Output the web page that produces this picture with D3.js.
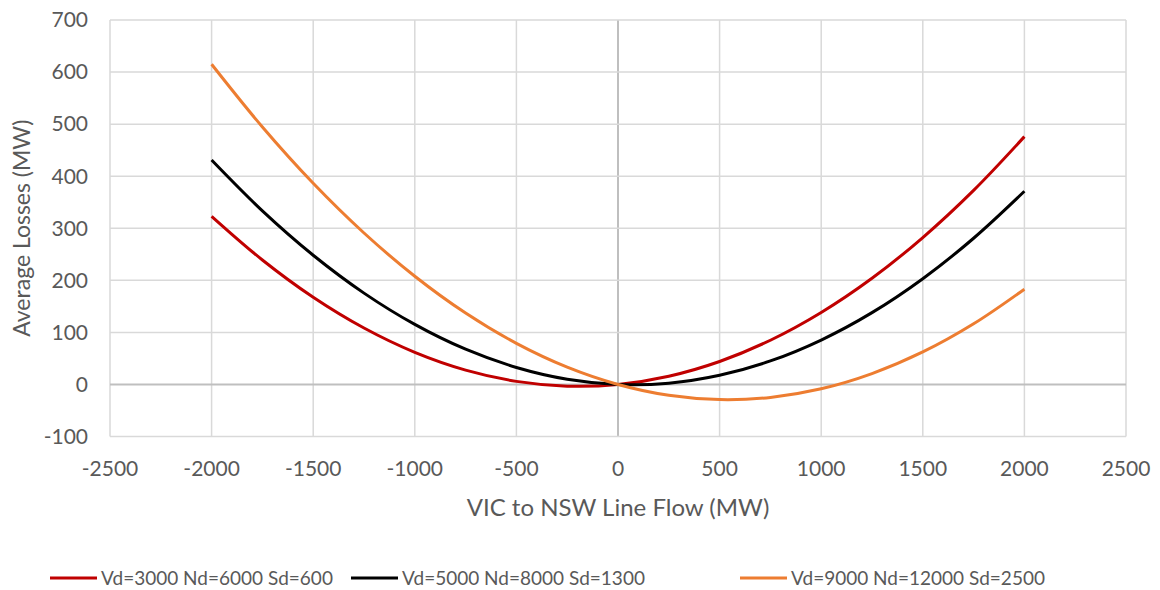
<!DOCTYPE html>
<html><head><meta charset="utf-8">
<script src="https://cdn.jsdelivr.net/npm/d3@7"></script>
<style>body{margin:0;background:#fff}text{font-family:"Lato","Liberation Sans",sans-serif;fill:#595959}</style>
</head><body><svg id="c" width="1160" height="590"></svg>
<script>
const flows = [-2000,-1750,-1500,-1250,-1000,-750,-500,-250,0,250,500,750,1000,1250,1500,1750,2000];
const seriesNames = ["Vd=3000 Nd=6000 Sd=600","Vd=5000 Nd=8000 Sd=1300","Vd=9000 Nd=12000 Sd=2500"];
const lossesA = [323,239,167.4,108.3,61.6,27.5,5.9,-3.3,0,15.8,44.1,84.9,138.2,203.9,282.2,372.8,476];
const lossesB = [431,333.3,248.1,175.4,115.3,67.6,32.6,10,0,2.5,17.6,45.1,85.3,137.9,203.1,280.8,371];
const lossesC = [615,494.5,386.4,290.9,207.8,137.1,78.9,33.2,0,-20.8,-29.1,-24.9,-8.3,20.9,62.4,116.5,183];
const xTicks = [-2500,-2000,-1500,-1000,-500,0,500,1000,1500,2000,2500];
const yTicks = [-100,0,100,200,300,400,500,600,700];
const colors = ["#C00000","#000000","#ED7D31"];

const svg = d3.select("#c");
const L=110,R=1126,T=20,B=436.5;
const x = d3.scaleLinear().domain([-2500,2500]).range([L,R]);
const y = d3.scaleLinear().domain([-100,700]).range([B,T]);

const g = svg.append("g");
g.selectAll(".vg").data(xTicks).join("line")
 .attr("x1",d=>x(d)).attr("x2",d=>x(d)).attr("y1",T).attr("y2",B)
 .attr("stroke",d=>d===0?"#bfbfbf":"#d9d9d9").attr("stroke-width",d=>d===0?2:1.5);
g.selectAll(".hg").data(yTicks).join("line")
 .attr("x1",L).attr("x2",R).attr("y1",d=>y(d)).attr("y2",d=>y(d))
 .attr("stroke",d=>d===0?"#bfbfbf":"#d9d9d9").attr("stroke-width",d=>d===0?2:1.5);

g.selectAll(".yl").data(yTicks).join("text")
 .attr("x",L-22).attr("y",d=>y(d)).attr("dy","0.35em").attr("text-anchor","end")
 .attr("font-size",21).text(d=>d);
g.selectAll(".xl").data(xTicks).join("text")
 .attr("x",d=>x(d)).attr("y",B+32).attr("dy","0.35em").attr("text-anchor","middle")
 .attr("font-size",21).text(d=>d);

svg.append("text").attr("transform","translate(22,"+((T+B)/2)+") rotate(-90)")
 .attr("text-anchor","middle").attr("dy","0.35em").attr("font-size",23).text("Average Losses (MW)");
svg.append("text").attr("x",(L+R)/2).attr("y",508).attr("dy","0.35em")
 .attr("text-anchor","middle").attr("font-size",24).text("VIC to NSW Line Flow (MW)");

const all=[lossesA,lossesB,lossesC];
const line=d3.line().x((d,i)=>x(flows[i])).y(d=>y(d)).curve(d3.curveCatmullRom);
all.forEach((s,k)=>{
  svg.append("path").attr("d",line(s)).attr("fill","none").attr("stroke",colors[k]).attr("stroke-width",3);
});

const legX=[50,351,740];
seriesNames.forEach((n,k)=>{
  svg.append("line").attr("x1",legX[k]).attr("x2",legX[k]+47).attr("y1",578).attr("y2",578)
   .attr("stroke",colors[k]).attr("stroke-width",3);
  svg.append("text").attr("x",legX[k]+51).attr("y",578).attr("dy","0.35em").attr("font-size",19).text(n);
});
</script></body></html>
